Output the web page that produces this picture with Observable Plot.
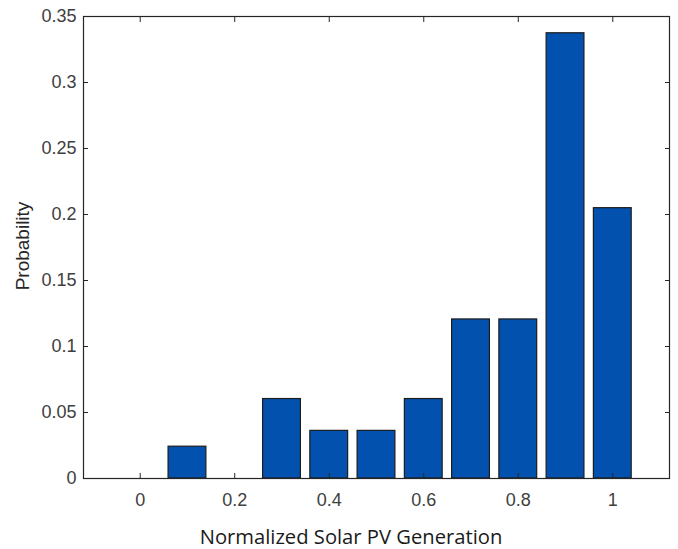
<!DOCTYPE html>
<html>
<head>
<meta charset="utf-8">
<script src="https://cdn.jsdelivr.net/npm/d3@7"></script>
<script src="https://cdn.jsdelivr.net/npm/@observablehq/plot@0.6"></script>
<style>
  html, body { margin: 0; padding: 0; background: #fff; }
  #chart { width: 678px; height: 549px; }
</style>
</head>
<body>
<div id="chart"></div>
<script>
// Data
const binCenters = [0, 0.1, 0.2, 0.3, 0.4, 0.5, 0.6, 0.7, 0.8, 0.9, 1.0];
const probabilities = [0, 0.0241, 0, 0.0602, 0.0361, 0.0361, 0.0602, 0.1205, 0.1205, 0.3373, 0.2048];
const xTicks = [0, 0.2, 0.4, 0.6, 0.8, 1];
const yTicks = [0, 0.05, 0.1, 0.15, 0.2, 0.25, 0.3, 0.35];
const xLabel = "Normalized Solar PV Generation";
const yLabel = "Probability";
const barHalfWidth = 0.04;

const data = binCenters.map((x, i) => ({x, p: probabilities[i]})).filter(d => d.p > 0);

const axisColor = "#262626";
const tickTextColor = "#404040";

const chart = Plot.plot({
  width: 678,
  height: 549,
  marginLeft: 83,
  marginRight: 9,
  marginTop: 16,
  marginBottom: 71,
  style: {fontFamily: "'Liberation Sans', Arial, sans-serif", fontSize: "18px", background: "#fff"},
  x: {domain: [-0.12, 1.12]},
  y: {domain: [0, 0.35]},
  marks: [
    Plot.rectY(data, {
      x1: d => d.x - barHalfWidth,
      x2: d => d.x + barHalfWidth,
      y: "p",
      fill: "#0351ae",
      stroke: "#1c1c1c",
      strokeWidth: 1.2
    }),
    Plot.frame({stroke: axisColor, strokeWidth: 1.2}),
    Plot.axisX(xTicks, {anchor: "bottom", tickSize: -5, tickPadding: 20, fontSize: 18, stroke: axisColor, fill: tickTextColor, label: null, tickFormat: d => String(d)}),
    Plot.axisX(xTicks, {anchor: "top", tickSize: -5, stroke: axisColor, label: null, tickFormat: () => ""}),
    Plot.axisY(yTicks, {anchor: "left", tickSize: -5, tickPadding: 12, fontSize: 18, stroke: axisColor, fill: tickTextColor, label: null, tickFormat: d => String(d)}),
    Plot.axisY(yTicks, {anchor: "right", tickSize: -5, stroke: axisColor, label: null, tickFormat: () => ""})
  ]
});

const svg = d3.select(chart);
// Axis titles
svg.append("text")
  .attr("x", 351)
  .attr("y", 544)
  .attr("text-anchor", "middle")
  .attr("font-family", "'Open Sans', sans-serif")
  .attr("font-size", 20.2)
  .attr("fill", "#1a1a1a")
  .text(xLabel);
svg.append("text")
  .attr("transform", "translate(29,246) rotate(-90)")
  .attr("text-anchor", "middle")
  .attr("font-family", "'Liberation Sans', Arial, sans-serif")
  .attr("font-size", 19)
  .attr("fill", "#262626")
  .text(yLabel);

document.getElementById("chart").appendChild(chart);
</script>
</body>
</html>
